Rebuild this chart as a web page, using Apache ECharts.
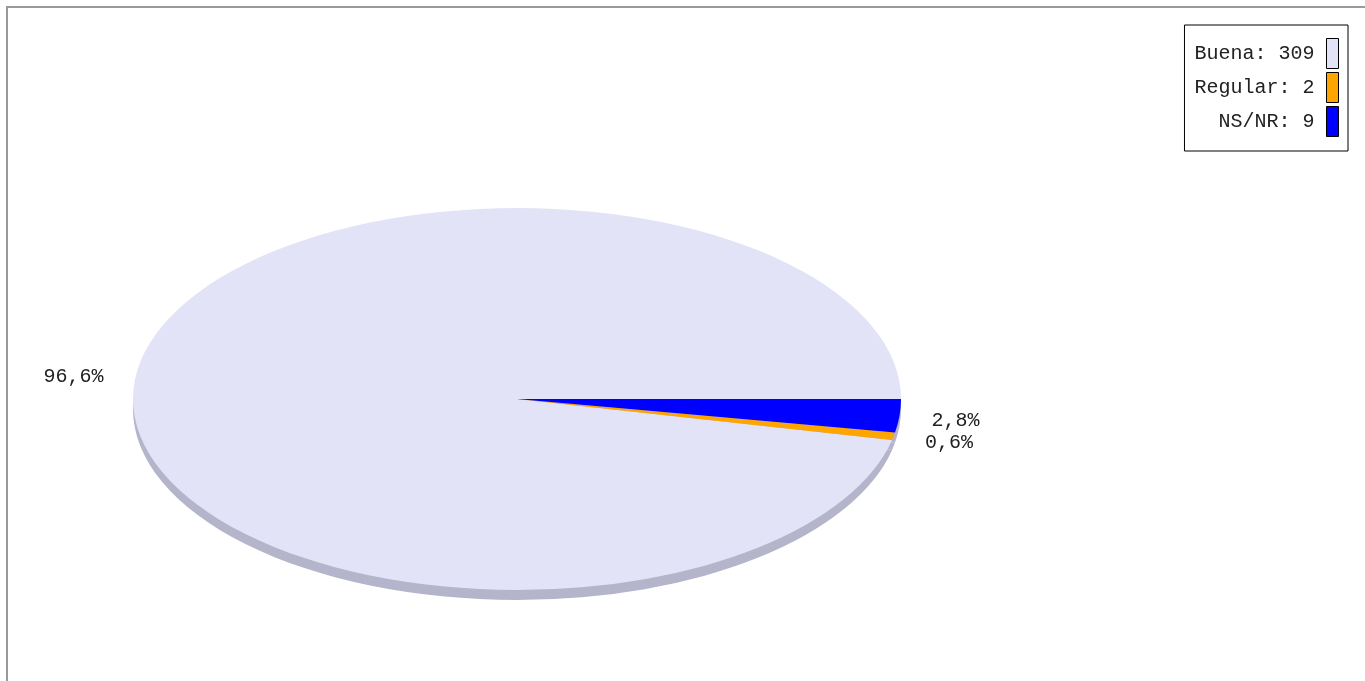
<!DOCTYPE html>
<html>
<head>
<meta charset="utf-8">
<script src="https://cdn.jsdelivr.net/npm/echarts@6/dist/echarts.min.js"></script>
<style>
  html, body { margin: 0; padding: 0; background: #fff; }
  #chart { width: 1365px; height: 681px; }
</style>
</head>
<body>
<div id="chart"></div>
<script>
// Survey answers and their counts
const categories = ['Buena', 'Regular', 'NS/NR'];
const counts = [309, 2, 9];

// Slice colours (top face) and the shaded rim under the pie
const topColors = ['#e3e3f7', '#ffa500', '#0000ff'];
const sideColors = ['#b4b4ca', '#b4b4ca', '#b4b4ca'];

// Elliptical pie geometry
const PIE = { cx: 517, cy: 399, rx: 384, ry: 191, depth: 10 };
const FONT = '20px "Liberation Mono", monospace';

const total = counts.reduce((a, b) => a + b, 0);

function percentText(v) {
  return (v / total * 100).toFixed(1).replace('.', ',') + '%';
}

// Slices run counter-clockwise starting at 3 o'clock
function sliceAngles(i) {
  let a0 = 0;
  for (let j = 0; j < i; j++) a0 += counts[j] / total * Math.PI * 2;
  const a1 = a0 + counts[i] / total * Math.PI * 2;
  return [a0, a1];
}

function sectorEl(i, offsetY, fill) {
  const [a0, a1] = sliceAngles(i);
  return {
    type: 'sector',
    shape: {
      cx: PIE.cx, cy: PIE.cy + offsetY, r0: 0, r: PIE.rx,
      startAngle: -a0, endAngle: -a1, clockwise: false
    },
    scaleY: PIE.ry / PIE.rx,
    originX: PIE.cx,
    originY: PIE.cy + offsetY,
    style: { fill: fill }
  };
}

const topSeries = categories.map((name, i) => ({
  type: 'custom',
  name: name,
  coordinateSystem: 'none',
  z: 3,
  color: topColors[i],
  itemStyle: { color: topColors[i] },
  data: [counts[i]],
  renderItem: function () {
    const [a0, a1] = sliceAngles(i);
    const mid = (a0 + a1) / 2;
    const c = Math.cos(mid), s = Math.sin(mid);
    const lx = PIE.cx + (PIE.rx + 32) * c;
    const ly = PIE.cy - (PIE.ry + 18) * s + (s < 0 ? 3 : 0);
    return {
      type: 'group',
      children: [
        sectorEl(i, 0, topColors[i]),
        {
          type: 'text',
          x: lx, y: ly,
          style: {
            text: percentText(counts[i]),
            font: FONT,
            fill: '#222',
            align: c >= 0 ? 'left' : 'right',
            verticalAlign: 'middle'
          }
        }
      ]
    };
  }
}));

const sideSeries = categories.map((name, i) => ({
  type: 'custom',
  name: name,
  coordinateSystem: 'none',
  z: 2,
  color: topColors[i],
  data: [counts[i]],
  renderItem: function () {
    return sectorEl(i, PIE.depth, sideColors[i]);
  }
}));

const chart = echarts.init(document.getElementById('chart'), null, { renderer: 'canvas' });
chart.setOption({
  animation: false,
  backgroundColor: '#fff',
  graphic: [{
    type: 'rect',
    silent: true,
    z: 0,
    shape: { x: 7, y: 7, width: 1400, height: 700 },
    style: { fill: 'none', stroke: '#9a9a9a', lineWidth: 2 }
  }],
  legend: {
    orient: 'vertical',
    right: 17,
    top: 25,
    align: 'right',
    icon: 'rect',
    itemWidth: 12,
    itemHeight: 30,
    itemGap: 3,
    padding: [13, 9, 14, 10],
    borderColor: '#000',
    borderWidth: 1,
    backgroundColor: '#fff',
    selectedMode: false,
    data: categories,
    formatter: function (name) {
      return name + ': ' + counts[categories.indexOf(name)];
    },
    textStyle: {
      fontFamily: '"Liberation Mono", monospace',
      fontSize: 20,
      color: '#222',
      padding: [0, 7, 0, 0]
    },
    itemStyle: { borderColor: '#000', borderWidth: 1 }
  },
  series: topSeries.concat(sideSeries)
});
</script>
</body>
</html>
